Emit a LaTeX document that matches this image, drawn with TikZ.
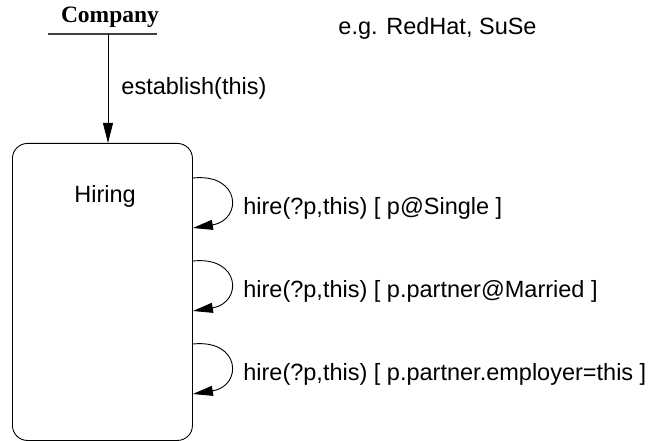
\documentclass[tikz,border=0pt]{standalone}
\usepackage{fontspec}
\setmainfont{Liberation Sans}
\newfontfamily\timesfont{Liberation Serif}
\usetikzlibrary{arrows.meta}

\begin{document}
\begin{tikzpicture}[x=1pt, y=-1pt, line width=0.9pt,
  lbl/.style={inner sep=0pt, anchor=base west, font=\fontsize{23.5}{28}\selectfont},
  ttl/.style={inner sep=0pt, anchor=base, font=\timesfont\bfseries\fontsize{23.5}{28}\selectfont},
  statebox/.style={draw, rounded corners=15pt, inner sep=0pt, anchor=north west},
  tip/.style={-{Triangle[length=20pt, width=10pt]}}]
\useasboundingbox (0,0) rectangle (656,441);

% object header
\node[ttl] (company) at (110,23) {Company};
\coordinate (ulL) at (48,34);
\coordinate (ulR) at (157,34);
\coordinate (stem) at (108,34);
\draw[line width=1.2pt, black!75] (ulL) -- (ulR);
\node[lbl] (example) at (338,35) {e.g. RedHat, SuSe};

% state
\node[statebox, minimum width=180pt, minimum height=297pt] (hiring) at (12,143) {};
\node[lbl] (hiringname) at (74,202) {Hiring};

% creation transition
\draw[tip] (stem) -- (stem |- hiring.north);
\node[lbl] (establish) at (121,95) {establish(this)};

% self transitions on the right edge
\foreach \y/\name/\txt in {178/a/{hire(?p,this) [ p@Single ]},
                            261/b/{hire(?p,this) [ p.partner@Married ]},
                            344/c/{hire(?p,this) [ p.partner.employer=this ]}} {
  \coordinate (s\name) at (hiring.east |- 0,\y);
  \coordinate (e\name) at ([yshift=-50pt]s\name);
  \draw[tip] (s\name) .. controls ([xshift=48pt,yshift=5pt]s\name) and ([xshift=50pt,yshift=8pt]e\name) .. (e\name);
  \node[lbl] (l\name) at ([xshift=50pt,yshift=-36pt]s\name) {\txt};
}
\end{tikzpicture}
\end{document}
